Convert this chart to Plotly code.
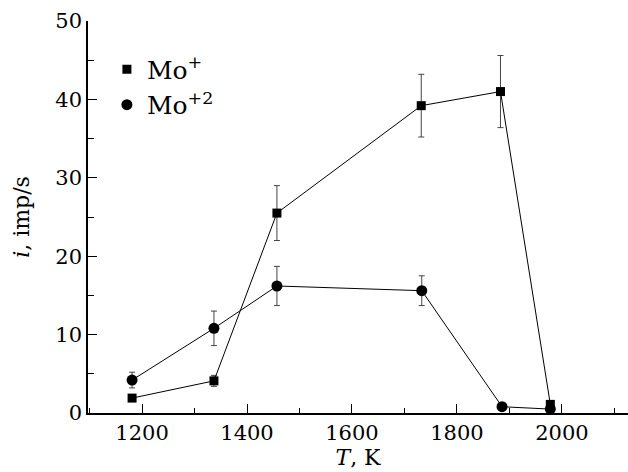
import plotly.graph_objects as go

T_mo1 = [1181, 1337, 1457, 1732, 1883, 1978]
i_mo1 = [1.9, 4.1, 25.5, 39.2, 41.0, 1.1]
err_mo1 = [0.0, 0.7, 3.5, 4.0, 4.6, 0.0]

T_mo2 = [1181, 1337, 1457, 1733, 1886, 1978]
i_mo2 = [4.2, 10.8, 16.2, 15.6, 0.8, 0.5]
err_mo2 = [1.0, 2.2, 2.5, 1.9, 0.0, 0.0]

x_ticks = [1200, 1400, 1600, 1800, 2000]
y_ticks = [0, 10, 20, 30, 40, 50]

FONT = "DejaVu Serif"

fig = go.Figure()
eb = dict(type="data", visible=True, color="#444444", thickness=1, width=3)
fig.add_trace(go.Scatter(x=T_mo2, y=i_mo2, mode="lines+markers",
                         line=dict(color="black", width=1),
                         marker=dict(symbol="circle", size=11, color="black"),
                         error_y=dict(array=err_mo2, **eb), showlegend=False))
fig.add_trace(go.Scatter(x=T_mo1, y=i_mo1, mode="lines+markers",
                         line=dict(color="black", width=1),
                         marker=dict(symbol="square", size=9, color="black"),
                         error_y=dict(array=err_mo1, **eb), showlegend=False))
fig.add_trace(go.Scatter(x=[None], y=[None], mode="markers", name="Mo<sup>+</sup>",
                         marker=dict(symbol="square", size=9, color="black")))
fig.add_trace(go.Scatter(x=[None], y=[None], mode="markers", name="Mo<sup>+2</sup>",
                         marker=dict(symbol="circle", size=11, color="black")))

fig.update_layout(
    width=628, height=472,
    margin=dict(l=88, r=0, t=21, b=59),
    paper_bgcolor="white", plot_bgcolor="white",
    font=dict(family=FONT, size=21, color="black"),
    legend=dict(x=0.035, y=0.935, xanchor="left", yanchor="top",
                bgcolor="rgba(0,0,0,0)", font=dict(family=FONT, size=25),
                tracegroupgap=0, itemsizing="trace"),
    xaxis=dict(range=[1097, 2126], tickvals=x_ticks, ticks="inside", ticklen=9,
               tickwidth=1, tickcolor="black", showline=True, linecolor="black",
               linewidth=1.5, showgrid=False, zeroline=False,
               tickfont=dict(family=FONT, size=21),
               minor=dict(dtick=100, tick0=1100, ticks="inside", ticklen=5, tickcolor="black"),
               title=dict(text="<i>T</i>, K", font=dict(family=FONT, size=22), standoff=5)),
    yaxis=dict(range=[0, 50], tickvals=y_ticks, ticks="inside", ticklen=9,
               tickwidth=1, tickcolor="black", showline=True, linecolor="black",
               linewidth=1.5, showgrid=False, zeroline=False,
               tickfont=dict(family=FONT, size=21),
               minor=dict(dtick=5, tick0=0, ticks="inside", ticklen=6, tickcolor="black"),
               title=dict(text="<i>i</i>, imp/s", font=dict(family=FONT, size=22), standoff=20)),
)

fig.write_html("out.html")
